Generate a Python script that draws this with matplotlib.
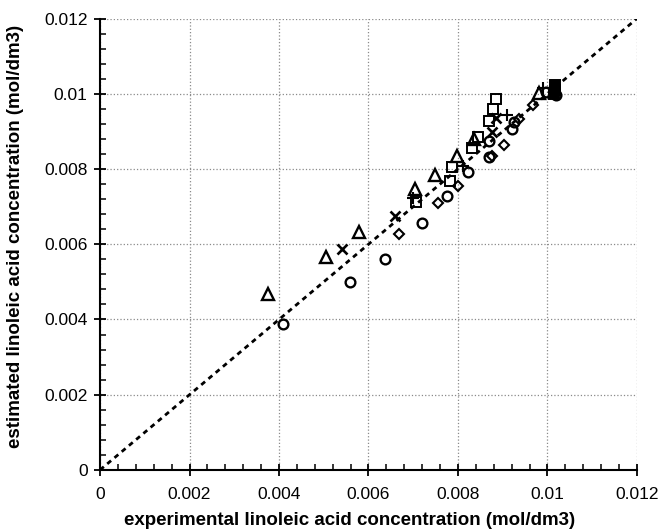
import numpy as np
import matplotlib
matplotlib.use('Agg')
import matplotlib.pyplot as plt
from matplotlib.ticker import MultipleLocator, FormatStrFormatter

plt.rcParams['font.family'] = ['Liberation Sans', 'DejaVu Sans']

# experimental (x) vs estimated (y) linoleic acid, mol/dm3, one run per marker
tri_x = [0.00376, 0.00504, 0.00579, 0.00704, 0.00749, 0.00798, 0.00836, 0.00982]
tri_y = [0.00467, 0.00565, 0.00633, 0.00747, 0.00784, 0.00834, 0.00880, 0.01003]

cross_x = [0.00540, 0.00659, 0.00875, 0.00886]
cross_y = [0.00587, 0.00676, 0.00898, 0.00935]

plus_x = [0.00700, 0.00812, 0.00909, 0.00991]
plus_y = [0.00722, 0.00809, 0.00944, 0.01015]

circ_x = [0.00410, 0.00559, 0.00637, 0.00720, 0.00775, 0.00823, 0.00870, 0.00869,
          0.00921, 0.00926, 0.00996, 0.01019]
circ_y = [0.00387, 0.00500, 0.00562, 0.00656, 0.00727, 0.00791, 0.00831, 0.00875,
          0.00907, 0.00925, 0.01005, 0.00996]

diam_x = [0.00668, 0.00756, 0.00801, 0.00875, 0.00903, 0.00937, 0.00968]
diam_y = [0.00627, 0.00711, 0.00755, 0.00835, 0.00863, 0.00932, 0.00970]

sq_x = [0.00706, 0.00782, 0.00787, 0.00832, 0.00845, 0.00870, 0.00879, 0.00884]
sq_y = [0.00712, 0.00767, 0.00805, 0.00855, 0.00884, 0.00929, 0.00959, 0.00987]

fsq_x = [0.01017, 0.01017, 0.01015]
fsq_y = [0.01023, 0.01011, 0.01000]

lim = 0.012

fig = plt.figure(figsize=(6.58, 5.31), dpi=100)
ax = fig.add_axes([0.152, 0.115, 0.816, 0.850])

# parity line
ax.plot([0, lim], [0, lim], color='black', lw=2.0, dashes=(1.8, 1.6), zorder=2)

mk = dict(color='black', linestyle='none', zorder=3)
ax.plot(tri_x, tri_y, marker='^', ms=8, mfc='none', mew=1.7, **mk)
ax.plot(cross_x, cross_y, marker='x', ms=7, mew=1.9, **mk)
ax.plot(plus_x, plus_y, marker='+', ms=8, mew=1.5, **mk)
ax.plot(circ_x, circ_y, marker='o', ms=7, mfc='none', mew=1.7, **mk)
ax.plot(diam_x, diam_y, marker='D', ms=5.5, mfc='none', mew=1.5, **mk)
ax.plot(sq_x, sq_y, marker='s', ms=7.5, mfc='none', mew=1.4, **mk)
ax.plot(fsq_x, fsq_y, marker='s', ms=7.5, mfc='black', mew=1.4, **mk)

ax.set_xlim(0, lim)
ax.set_ylim(0, lim)
for axis in (ax.xaxis, ax.yaxis):
    axis.set_major_locator(MultipleLocator(0.002))
    axis.set_minor_locator(MultipleLocator(0.0004))
ax.xaxis.set_major_formatter(FormatStrFormatter('%g'))
ax.yaxis.set_major_formatter(FormatStrFormatter('%g'))

ax.grid(True, which='major', color='#8a8a8a', linestyle=':', linewidth=0.9)
ax.spines['top'].set_visible(False)
ax.spines['right'].set_visible(False)
for s in ('left', 'bottom'):
    ax.spines[s].set_linewidth(1.5)
ax.tick_params(which='major', direction='inout', length=8, width=1.3, labelsize=12.5)
ax.tick_params(axis='x', which='major', pad=8)
ax.tick_params(axis='y', which='major', pad=5)
ax.tick_params(which='minor', direction='in', length=4, width=1.1)

ax.set_xlabel('experimental linoleic acid concentration (mol/dm3)', fontsize=13.5, fontweight='bold')
ax.set_ylabel('estimated linoleic acid concentration (mol/dm3)', fontsize=13.5, fontweight='bold')
ax.xaxis.set_label_coords(0.464, -0.093)
ax.yaxis.set_label_coords(-0.142, 0.517)

fig.savefig('out.png', dpi=100)
